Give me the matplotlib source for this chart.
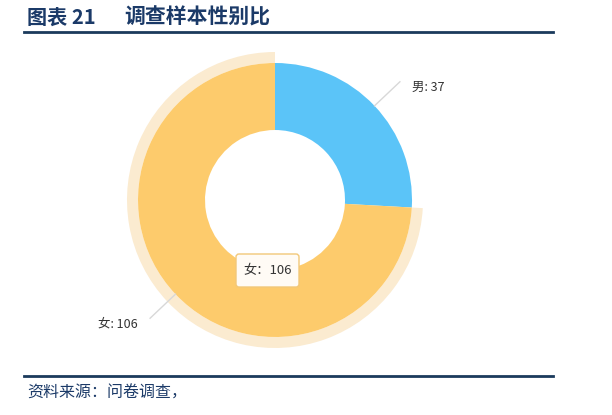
import matplotlib.pyplot as plt
from matplotlib.patches import Wedge, FancyBboxPatch
import numpy as np

plt.rcParams['font.family'] = ['Noto Sans CJK SC', 'DejaVu Sans']

# data
labels = ["男", "女"]
values = [37, 106]
colors = ["#5BC4F8", "#FDCB6C"]
title_no = "图表 21"
title = "调查样本性别比"
source = "资料来源：问卷调查，"

W, H = 612, 415
fig = plt.figure(figsize=(W / 100, H / 100), dpi=100)
ax = fig.add_axes([0, 0, 1, 1])

cx, cy = 275, H - 200
r_out, r_in = 137, 70

wedges, _ = ax.pie(values, colors=colors, startangle=90, counterclock=False,
                   radius=r_out, center=(cx, cy), frame=True,
                   wedgeprops=dict(width=r_out - r_in, linewidth=0))
ax.set_xlim(0, W)
ax.set_ylim(0, H)
ax.set_aspect("equal")
ax.axis("off")

# halo on the hovered slice
hw = wedges[1]
ax.add_patch(Wedge((cx, cy), r_out + 11, hw.theta1, hw.theta2, width=11,
                   facecolor="#FBEBD0", edgecolor="none", zorder=0))

# leader lines + labels
for w, lab, val in zip(wedges, labels, values):
    mid = np.deg2rad((w.theta1 + w.theta2) / 2)
    x0, y0 = cx + r_out * np.cos(mid), cy + r_out * np.sin(mid)
    x1, y1 = cx + (r_out + 35) * np.cos(mid), cy + (r_out + 35) * np.sin(mid)
    side = 1 if np.cos(mid) >= 0 else -1
    ax.plot([x0, x1], [y0, y1], color="#D8D8D8", lw=1, zorder=1)
    ax.text(x1 + side * 12, y1 - 6, f"{lab}: {val}",
            ha="left" if side > 0 else "right",
            va="center", fontsize=9, color="#333333")

# tooltip
box = FancyBboxPatch((236, H - 287), 63, 33, boxstyle="round,pad=0,rounding_size=3",
                     facecolor="#FFFBF5", edgecolor="#F2C879", lw=1, zorder=5)
ax.add_patch(box)
ax.text(267.5, H - 270.5, f"{labels[1]}：{values[1]}", ha="center", va="center",
        fontsize=9.5, color="#333333", zorder=6)

# title and rules
ax.text(27, H - 17, title_no, fontsize=14.5, fontweight="bold", color="#1B3A68",
        va="center", ha="left")
ax.text(124, H - 17, title, fontsize=15, fontweight="bold", color="#1B3A68",
        va="center", ha="left")
ax.plot([24, 553], [H - 32, H - 32], color="#1B3A5C", lw=2)
ax.plot([24, 553], [H - 376, H - 376], color="#1B3A5C", lw=2)
ax.text(27, H - 393, source, fontsize=11.5, style="italic", color="#1B3A68",
        va="center", ha="left")

fig.savefig("out.png", dpi=100)
